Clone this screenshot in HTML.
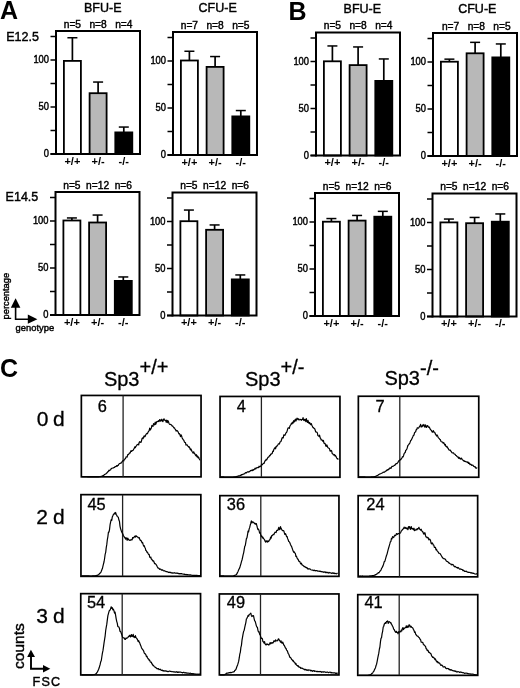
<!DOCTYPE html>
<html><head><meta charset="utf-8"><title>Figure</title>
<style>
html,body{margin:0;padding:0;background:#fff;width:520px;height:688px;overflow:hidden}
svg{display:block;will-change:transform}
text{font-family:"Liberation Sans", sans-serif;fill:#000}
.h{stroke:#000;stroke-width:0.42px}
.h2{stroke:#000;stroke-width:0.3px}
</style></head><body>
<svg width="520" height="688" viewBox="0 0 520 688">
<rect x="0" y="0" width="520" height="688" fill="#fff"/>
<line x1="72.4" y1="61" x2="72.4" y2="37.75" stroke="#000" stroke-width="1.7"/>
<line x1="67.4" y1="37.75" x2="77.4" y2="37.75" stroke="#000" stroke-width="1.5"/>
<rect x="63.9" y="60.9" width="17" height="93.1" fill="#fff" stroke="#000" stroke-width="1.8"/>
<text x="72.4" y="27.5" font-size="10.2" text-anchor="middle" font-weight="normal" class="h">n=5</text>
<text x="72.4" y="164.7" font-size="11" text-anchor="middle" font-weight="bold" >+/+</text>
<line x1="98.1" y1="93.3" x2="98.1" y2="82.05" stroke="#000" stroke-width="1.7"/>
<line x1="93.1" y1="82.05" x2="103.1" y2="82.05" stroke="#000" stroke-width="1.5"/>
<rect x="89.6" y="93.2" width="17" height="60.8" fill="#b8b8b8" stroke="#000" stroke-width="1.8"/>
<text x="98.1" y="27.5" font-size="10.2" text-anchor="middle" font-weight="normal" class="h">n=8</text>
<text x="98.1" y="164.7" font-size="11" text-anchor="middle" font-weight="bold" >+/-</text>
<line x1="123.8" y1="132.5" x2="123.8" y2="127.05" stroke="#000" stroke-width="1.7"/>
<line x1="118.8" y1="127.05" x2="128.8" y2="127.05" stroke="#000" stroke-width="1.5"/>
<rect x="115.3" y="132.4" width="17" height="21.6" fill="#000" stroke="#000" stroke-width="1.8"/>
<text x="123.8" y="27.5" font-size="10.2" text-anchor="middle" font-weight="normal" class="h">n=4</text>
<text x="123.8" y="164.7" font-size="11" text-anchor="middle" font-weight="bold" >-/-</text>
<rect x="56" y="31" width="84" height="123" fill="none" stroke="#000" stroke-width="2"/>
<line x1="50.5" y1="154" x2="56" y2="154" stroke="#000" stroke-width="1.5"/>
<line x1="50.5" y1="130.5" x2="56" y2="130.5" stroke="#000" stroke-width="1.5"/>
<line x1="50.5" y1="107" x2="56" y2="107" stroke="#000" stroke-width="1.5"/>
<line x1="50.5" y1="83.5" x2="56" y2="83.5" stroke="#000" stroke-width="1.5"/>
<line x1="50.5" y1="60" x2="56" y2="60" stroke="#000" stroke-width="1.5"/>
<line x1="50.5" y1="36.5" x2="56" y2="36.5" stroke="#000" stroke-width="1.5"/>
<line x1="50.5" y1="154" x2="57" y2="154" stroke="#000" stroke-width="2"/>
<text x="49" y="63.4" font-size="10" text-anchor="end" font-weight="normal" class="h" textLength="15.6" lengthAdjust="spacingAndGlyphs">100</text>
<text x="49" y="110.4" font-size="10" text-anchor="end" font-weight="normal" class="h" textLength="10.4" lengthAdjust="spacingAndGlyphs">50</text>
<text x="49" y="157.4" font-size="10" text-anchor="end" font-weight="normal" class="h" textLength="5.2" lengthAdjust="spacingAndGlyphs">0</text>
<text x="102.75" y="11.5" font-size="12.5" text-anchor="middle" font-weight="normal" class="h">BFU-E</text>
<line x1="189.4" y1="60.6" x2="189.4" y2="51.25" stroke="#000" stroke-width="1.7"/>
<line x1="184.4" y1="51.25" x2="194.4" y2="51.25" stroke="#000" stroke-width="1.5"/>
<rect x="180.9" y="60.5" width="17" height="94.5" fill="#fff" stroke="#000" stroke-width="1.8"/>
<text x="189.4" y="28.5" font-size="10.2" text-anchor="middle" font-weight="normal" class="h">n=7</text>
<text x="189.4" y="165.7" font-size="11" text-anchor="middle" font-weight="bold" >+/+</text>
<line x1="215.1" y1="67" x2="215.1" y2="56.55" stroke="#000" stroke-width="1.7"/>
<line x1="210.1" y1="56.55" x2="220.1" y2="56.55" stroke="#000" stroke-width="1.5"/>
<rect x="206.6" y="66.9" width="17" height="88.1" fill="#b8b8b8" stroke="#000" stroke-width="1.8"/>
<text x="215.1" y="28.5" font-size="10.2" text-anchor="middle" font-weight="normal" class="h">n=8</text>
<text x="215.1" y="165.7" font-size="11" text-anchor="middle" font-weight="bold" >+/-</text>
<line x1="240.8" y1="116.5" x2="240.8" y2="110.55" stroke="#000" stroke-width="1.7"/>
<line x1="235.8" y1="110.55" x2="245.8" y2="110.55" stroke="#000" stroke-width="1.5"/>
<rect x="232.3" y="116.4" width="17" height="38.6" fill="#000" stroke="#000" stroke-width="1.8"/>
<text x="240.8" y="28.5" font-size="10.2" text-anchor="middle" font-weight="normal" class="h">n=5</text>
<text x="240.8" y="165.7" font-size="11" text-anchor="middle" font-weight="bold" >-/-</text>
<rect x="173" y="32" width="84" height="123" fill="none" stroke="#000" stroke-width="2"/>
<line x1="167.5" y1="155" x2="173" y2="155" stroke="#000" stroke-width="1.5"/>
<line x1="167.5" y1="131.5" x2="173" y2="131.5" stroke="#000" stroke-width="1.5"/>
<line x1="167.5" y1="108" x2="173" y2="108" stroke="#000" stroke-width="1.5"/>
<line x1="167.5" y1="84.5" x2="173" y2="84.5" stroke="#000" stroke-width="1.5"/>
<line x1="167.5" y1="61" x2="173" y2="61" stroke="#000" stroke-width="1.5"/>
<line x1="167.5" y1="37.5" x2="173" y2="37.5" stroke="#000" stroke-width="1.5"/>
<line x1="167.5" y1="155" x2="174" y2="155" stroke="#000" stroke-width="2"/>
<text x="166" y="64.4" font-size="10" text-anchor="end" font-weight="normal" class="h" textLength="15.6" lengthAdjust="spacingAndGlyphs">100</text>
<text x="166" y="111.4" font-size="10" text-anchor="end" font-weight="normal" class="h" textLength="10.4" lengthAdjust="spacingAndGlyphs">50</text>
<text x="166" y="158.4" font-size="10" text-anchor="end" font-weight="normal" class="h" textLength="5.2" lengthAdjust="spacingAndGlyphs">0</text>
<text x="217.65" y="12" font-size="12.5" text-anchor="middle" font-weight="normal" class="h">CFU-E</text>
<line x1="332.4" y1="61.4" x2="332.4" y2="45.95" stroke="#000" stroke-width="1.7"/>
<line x1="327.4" y1="45.95" x2="337.4" y2="45.95" stroke="#000" stroke-width="1.5"/>
<rect x="323.9" y="61.3" width="17" height="94.2" fill="#fff" stroke="#000" stroke-width="1.8"/>
<text x="332.4" y="29" font-size="10.2" text-anchor="middle" font-weight="normal" class="h">n=5</text>
<text x="332.4" y="166.2" font-size="11" text-anchor="middle" font-weight="bold" >+/+</text>
<line x1="358.1" y1="65.2" x2="358.1" y2="46.95" stroke="#000" stroke-width="1.7"/>
<line x1="353.1" y1="46.95" x2="363.1" y2="46.95" stroke="#000" stroke-width="1.5"/>
<rect x="349.6" y="65.1" width="17" height="90.4" fill="#b8b8b8" stroke="#000" stroke-width="1.8"/>
<text x="358.1" y="29" font-size="10.2" text-anchor="middle" font-weight="normal" class="h">n=8</text>
<text x="358.1" y="166.2" font-size="11" text-anchor="middle" font-weight="bold" >+/-</text>
<line x1="383.8" y1="81" x2="383.8" y2="58.95" stroke="#000" stroke-width="1.7"/>
<line x1="378.8" y1="58.95" x2="388.8" y2="58.95" stroke="#000" stroke-width="1.5"/>
<rect x="375.3" y="80.9" width="17" height="74.6" fill="#000" stroke="#000" stroke-width="1.8"/>
<text x="383.8" y="29" font-size="10.2" text-anchor="middle" font-weight="normal" class="h">n=4</text>
<text x="383.8" y="166.2" font-size="11" text-anchor="middle" font-weight="bold" >-/-</text>
<rect x="316" y="32.5" width="84" height="123" fill="none" stroke="#000" stroke-width="2"/>
<line x1="310.5" y1="155.5" x2="316" y2="155.5" stroke="#000" stroke-width="1.5"/>
<line x1="310.5" y1="132" x2="316" y2="132" stroke="#000" stroke-width="1.5"/>
<line x1="310.5" y1="108.5" x2="316" y2="108.5" stroke="#000" stroke-width="1.5"/>
<line x1="310.5" y1="85" x2="316" y2="85" stroke="#000" stroke-width="1.5"/>
<line x1="310.5" y1="61.5" x2="316" y2="61.5" stroke="#000" stroke-width="1.5"/>
<line x1="310.5" y1="38" x2="316" y2="38" stroke="#000" stroke-width="1.5"/>
<line x1="310.5" y1="155.5" x2="317" y2="155.5" stroke="#000" stroke-width="2"/>
<text x="309" y="64.9" font-size="10" text-anchor="end" font-weight="normal" class="h" textLength="15.6" lengthAdjust="spacingAndGlyphs">100</text>
<text x="309" y="111.9" font-size="10" text-anchor="end" font-weight="normal" class="h" textLength="10.4" lengthAdjust="spacingAndGlyphs">50</text>
<text x="309" y="158.9" font-size="10" text-anchor="end" font-weight="normal" class="h" textLength="5.2" lengthAdjust="spacingAndGlyphs">0</text>
<text x="362.3" y="12.6" font-size="12.5" text-anchor="middle" font-weight="normal" class="h">BFU-E</text>
<line x1="449.4" y1="61.8" x2="449.4" y2="59.15" stroke="#000" stroke-width="1.7"/>
<line x1="444.4" y1="59.15" x2="454.4" y2="59.15" stroke="#000" stroke-width="1.5"/>
<rect x="440.9" y="61.7" width="17" height="94.3" fill="#fff" stroke="#000" stroke-width="1.8"/>
<text x="450.6" y="29.5" font-size="10.2" text-anchor="middle" font-weight="normal" class="h">n=7</text>
<text x="449.4" y="166.7" font-size="11" text-anchor="middle" font-weight="bold" >+/+</text>
<line x1="475.1" y1="53.4" x2="475.1" y2="42.35" stroke="#000" stroke-width="1.7"/>
<line x1="470.1" y1="42.35" x2="480.1" y2="42.35" stroke="#000" stroke-width="1.5"/>
<rect x="466.6" y="53.3" width="17" height="102.7" fill="#b8b8b8" stroke="#000" stroke-width="1.8"/>
<text x="476.3" y="29.5" font-size="10.2" text-anchor="middle" font-weight="normal" class="h">n=8</text>
<text x="475.1" y="166.7" font-size="11" text-anchor="middle" font-weight="bold" >+/-</text>
<line x1="500.8" y1="57.5" x2="500.8" y2="43.95" stroke="#000" stroke-width="1.7"/>
<line x1="495.8" y1="43.95" x2="505.8" y2="43.95" stroke="#000" stroke-width="1.5"/>
<rect x="492.3" y="57.4" width="17" height="98.6" fill="#000" stroke="#000" stroke-width="1.8"/>
<text x="502" y="29.5" font-size="10.2" text-anchor="middle" font-weight="normal" class="h">n=5</text>
<text x="500.8" y="166.7" font-size="11" text-anchor="middle" font-weight="bold" >-/-</text>
<rect x="433" y="33" width="84" height="123" fill="none" stroke="#000" stroke-width="2"/>
<line x1="427.5" y1="156" x2="433" y2="156" stroke="#000" stroke-width="1.5"/>
<line x1="427.5" y1="132.5" x2="433" y2="132.5" stroke="#000" stroke-width="1.5"/>
<line x1="427.5" y1="109" x2="433" y2="109" stroke="#000" stroke-width="1.5"/>
<line x1="427.5" y1="85.5" x2="433" y2="85.5" stroke="#000" stroke-width="1.5"/>
<line x1="427.5" y1="62" x2="433" y2="62" stroke="#000" stroke-width="1.5"/>
<line x1="427.5" y1="38.5" x2="433" y2="38.5" stroke="#000" stroke-width="1.5"/>
<line x1="427.5" y1="156" x2="434" y2="156" stroke="#000" stroke-width="2"/>
<text x="426" y="65.4" font-size="10" text-anchor="end" font-weight="normal" class="h" textLength="15.6" lengthAdjust="spacingAndGlyphs">100</text>
<text x="426" y="112.4" font-size="10" text-anchor="end" font-weight="normal" class="h" textLength="10.4" lengthAdjust="spacingAndGlyphs">50</text>
<text x="426" y="159.4" font-size="10" text-anchor="end" font-weight="normal" class="h" textLength="5.2" lengthAdjust="spacingAndGlyphs">0</text>
<text x="477.3" y="13" font-size="12.5" text-anchor="middle" font-weight="normal" class="h">CFU-E</text>
<line x1="71.9" y1="220.6" x2="71.9" y2="217.95" stroke="#000" stroke-width="1.7"/>
<line x1="66.9" y1="217.95" x2="76.9" y2="217.95" stroke="#000" stroke-width="1.5"/>
<rect x="63.4" y="220.5" width="17" height="94.5" fill="#fff" stroke="#000" stroke-width="1.8"/>
<text x="71.9" y="188.5" font-size="10.2" text-anchor="middle" font-weight="normal" class="h">n=5</text>
<text x="71.9" y="325.7" font-size="11" text-anchor="middle" font-weight="bold" >+/+</text>
<line x1="97.6" y1="222.6" x2="97.6" y2="215.05" stroke="#000" stroke-width="1.7"/>
<line x1="92.6" y1="215.05" x2="102.6" y2="215.05" stroke="#000" stroke-width="1.5"/>
<rect x="89.1" y="222.5" width="17" height="92.5" fill="#b8b8b8" stroke="#000" stroke-width="1.8"/>
<text x="97.6" y="188.5" font-size="10.2" text-anchor="middle" font-weight="normal" class="h">n=12</text>
<text x="97.6" y="325.7" font-size="11" text-anchor="middle" font-weight="bold" >+/-</text>
<line x1="123.3" y1="281" x2="123.3" y2="276.95" stroke="#000" stroke-width="1.7"/>
<line x1="118.3" y1="276.95" x2="128.3" y2="276.95" stroke="#000" stroke-width="1.5"/>
<rect x="114.8" y="280.9" width="17" height="34.1" fill="#000" stroke="#000" stroke-width="1.8"/>
<text x="123.3" y="188.5" font-size="10.2" text-anchor="middle" font-weight="normal" class="h">n=6</text>
<text x="123.3" y="325.7" font-size="11" text-anchor="middle" font-weight="bold" >-/-</text>
<rect x="55.5" y="192" width="84" height="123" fill="none" stroke="#000" stroke-width="2"/>
<line x1="50" y1="315" x2="55.5" y2="315" stroke="#000" stroke-width="1.5"/>
<line x1="50" y1="291.5" x2="55.5" y2="291.5" stroke="#000" stroke-width="1.5"/>
<line x1="50" y1="268" x2="55.5" y2="268" stroke="#000" stroke-width="1.5"/>
<line x1="50" y1="244.5" x2="55.5" y2="244.5" stroke="#000" stroke-width="1.5"/>
<line x1="50" y1="221" x2="55.5" y2="221" stroke="#000" stroke-width="1.5"/>
<line x1="50" y1="197.5" x2="55.5" y2="197.5" stroke="#000" stroke-width="1.5"/>
<line x1="50" y1="315" x2="56.5" y2="315" stroke="#000" stroke-width="2"/>
<text x="48.5" y="224.4" font-size="10" text-anchor="end" font-weight="normal" class="h" textLength="15.6" lengthAdjust="spacingAndGlyphs">100</text>
<text x="48.5" y="271.4" font-size="10" text-anchor="end" font-weight="normal" class="h" textLength="10.4" lengthAdjust="spacingAndGlyphs">50</text>
<text x="48.5" y="318.4" font-size="10" text-anchor="end" font-weight="normal" class="h" textLength="5.2" lengthAdjust="spacingAndGlyphs">0</text>
<line x1="188.9" y1="221.3" x2="188.9" y2="210.05" stroke="#000" stroke-width="1.7"/>
<line x1="183.9" y1="210.05" x2="193.9" y2="210.05" stroke="#000" stroke-width="1.5"/>
<rect x="180.4" y="221.2" width="17" height="94.3" fill="#fff" stroke="#000" stroke-width="1.8"/>
<text x="188.9" y="189" font-size="10.2" text-anchor="middle" font-weight="normal" class="h">n=5</text>
<text x="188.9" y="326.2" font-size="11" text-anchor="middle" font-weight="bold" >+/+</text>
<line x1="214.6" y1="229.9" x2="214.6" y2="224.95" stroke="#000" stroke-width="1.7"/>
<line x1="209.6" y1="224.95" x2="219.6" y2="224.95" stroke="#000" stroke-width="1.5"/>
<rect x="206.1" y="229.8" width="17" height="85.7" fill="#b8b8b8" stroke="#000" stroke-width="1.8"/>
<text x="214.6" y="189" font-size="10.2" text-anchor="middle" font-weight="normal" class="h">n=12</text>
<text x="214.6" y="326.2" font-size="11" text-anchor="middle" font-weight="bold" >+/-</text>
<line x1="240.3" y1="279.5" x2="240.3" y2="274.95" stroke="#000" stroke-width="1.7"/>
<line x1="235.3" y1="274.95" x2="245.3" y2="274.95" stroke="#000" stroke-width="1.5"/>
<rect x="231.8" y="279.4" width="17" height="36.1" fill="#000" stroke="#000" stroke-width="1.8"/>
<text x="240.3" y="189" font-size="10.2" text-anchor="middle" font-weight="normal" class="h">n=6</text>
<text x="240.3" y="326.2" font-size="11" text-anchor="middle" font-weight="bold" >-/-</text>
<rect x="172.5" y="192.5" width="84" height="123" fill="none" stroke="#000" stroke-width="2"/>
<line x1="167" y1="315.5" x2="172.5" y2="315.5" stroke="#000" stroke-width="1.5"/>
<line x1="167" y1="292" x2="172.5" y2="292" stroke="#000" stroke-width="1.5"/>
<line x1="167" y1="268.5" x2="172.5" y2="268.5" stroke="#000" stroke-width="1.5"/>
<line x1="167" y1="245" x2="172.5" y2="245" stroke="#000" stroke-width="1.5"/>
<line x1="167" y1="221.5" x2="172.5" y2="221.5" stroke="#000" stroke-width="1.5"/>
<line x1="167" y1="198" x2="172.5" y2="198" stroke="#000" stroke-width="1.5"/>
<line x1="167" y1="315.5" x2="173.5" y2="315.5" stroke="#000" stroke-width="2"/>
<text x="165.5" y="224.9" font-size="10" text-anchor="end" font-weight="normal" class="h" textLength="15.6" lengthAdjust="spacingAndGlyphs">100</text>
<text x="165.5" y="271.9" font-size="10" text-anchor="end" font-weight="normal" class="h" textLength="10.4" lengthAdjust="spacingAndGlyphs">50</text>
<text x="165.5" y="318.9" font-size="10" text-anchor="end" font-weight="normal" class="h" textLength="5.2" lengthAdjust="spacingAndGlyphs">0</text>
<line x1="331.4" y1="221.8" x2="331.4" y2="218.55" stroke="#000" stroke-width="1.7"/>
<line x1="326.4" y1="218.55" x2="336.4" y2="218.55" stroke="#000" stroke-width="1.5"/>
<rect x="322.9" y="221.7" width="17" height="94.3" fill="#fff" stroke="#000" stroke-width="1.8"/>
<text x="331.4" y="189.5" font-size="10.2" text-anchor="middle" font-weight="normal" class="h">n=5</text>
<text x="331.4" y="326.7" font-size="11" text-anchor="middle" font-weight="bold" >+/+</text>
<line x1="357.1" y1="220.7" x2="357.1" y2="215.45" stroke="#000" stroke-width="1.7"/>
<line x1="352.1" y1="215.45" x2="362.1" y2="215.45" stroke="#000" stroke-width="1.5"/>
<rect x="348.6" y="220.6" width="17" height="95.4" fill="#b8b8b8" stroke="#000" stroke-width="1.8"/>
<text x="357.1" y="189.5" font-size="10.2" text-anchor="middle" font-weight="normal" class="h">n=12</text>
<text x="357.1" y="326.7" font-size="11" text-anchor="middle" font-weight="bold" >+/-</text>
<line x1="382.8" y1="216.8" x2="382.8" y2="211.35" stroke="#000" stroke-width="1.7"/>
<line x1="377.8" y1="211.35" x2="387.8" y2="211.35" stroke="#000" stroke-width="1.5"/>
<rect x="374.3" y="216.7" width="17" height="99.3" fill="#000" stroke="#000" stroke-width="1.8"/>
<text x="382.8" y="189.5" font-size="10.2" text-anchor="middle" font-weight="normal" class="h">n=6</text>
<text x="382.8" y="326.7" font-size="11" text-anchor="middle" font-weight="bold" >-/-</text>
<rect x="315" y="193" width="84" height="123" fill="none" stroke="#000" stroke-width="2"/>
<line x1="309.5" y1="316" x2="315" y2="316" stroke="#000" stroke-width="1.5"/>
<line x1="309.5" y1="292.5" x2="315" y2="292.5" stroke="#000" stroke-width="1.5"/>
<line x1="309.5" y1="269" x2="315" y2="269" stroke="#000" stroke-width="1.5"/>
<line x1="309.5" y1="245.5" x2="315" y2="245.5" stroke="#000" stroke-width="1.5"/>
<line x1="309.5" y1="222" x2="315" y2="222" stroke="#000" stroke-width="1.5"/>
<line x1="309.5" y1="198.5" x2="315" y2="198.5" stroke="#000" stroke-width="1.5"/>
<line x1="309.5" y1="316" x2="316" y2="316" stroke="#000" stroke-width="2"/>
<text x="308" y="225.4" font-size="10" text-anchor="end" font-weight="normal" class="h" textLength="15.6" lengthAdjust="spacingAndGlyphs">100</text>
<text x="308" y="272.4" font-size="10" text-anchor="end" font-weight="normal" class="h" textLength="10.4" lengthAdjust="spacingAndGlyphs">50</text>
<text x="308" y="319.4" font-size="10" text-anchor="end" font-weight="normal" class="h" textLength="5.2" lengthAdjust="spacingAndGlyphs">0</text>
<line x1="448.9" y1="222.5" x2="448.9" y2="219.05" stroke="#000" stroke-width="1.7"/>
<line x1="443.9" y1="219.05" x2="453.9" y2="219.05" stroke="#000" stroke-width="1.5"/>
<rect x="440.4" y="222.4" width="17" height="94.1" fill="#fff" stroke="#000" stroke-width="1.8"/>
<text x="448.9" y="190" font-size="10.2" text-anchor="middle" font-weight="normal" class="h">n=5</text>
<text x="448.9" y="327.2" font-size="11" text-anchor="middle" font-weight="bold" >+/+</text>
<line x1="474.6" y1="223.3" x2="474.6" y2="217.45" stroke="#000" stroke-width="1.7"/>
<line x1="469.6" y1="217.45" x2="479.6" y2="217.45" stroke="#000" stroke-width="1.5"/>
<rect x="466.1" y="223.2" width="17" height="93.3" fill="#b8b8b8" stroke="#000" stroke-width="1.8"/>
<text x="474.6" y="190" font-size="10.2" text-anchor="middle" font-weight="normal" class="h">n=12</text>
<text x="474.6" y="327.2" font-size="11" text-anchor="middle" font-weight="bold" >+/-</text>
<line x1="500.3" y1="221.8" x2="500.3" y2="213.95" stroke="#000" stroke-width="1.7"/>
<line x1="495.3" y1="213.95" x2="505.3" y2="213.95" stroke="#000" stroke-width="1.5"/>
<rect x="491.8" y="221.7" width="17" height="94.8" fill="#000" stroke="#000" stroke-width="1.8"/>
<text x="500.3" y="190" font-size="10.2" text-anchor="middle" font-weight="normal" class="h">n=6</text>
<text x="500.3" y="327.2" font-size="11" text-anchor="middle" font-weight="bold" >-/-</text>
<rect x="432.5" y="193.5" width="84" height="123" fill="none" stroke="#000" stroke-width="2"/>
<line x1="427" y1="316.5" x2="432.5" y2="316.5" stroke="#000" stroke-width="1.5"/>
<line x1="427" y1="293" x2="432.5" y2="293" stroke="#000" stroke-width="1.5"/>
<line x1="427" y1="269.5" x2="432.5" y2="269.5" stroke="#000" stroke-width="1.5"/>
<line x1="427" y1="246" x2="432.5" y2="246" stroke="#000" stroke-width="1.5"/>
<line x1="427" y1="222.5" x2="432.5" y2="222.5" stroke="#000" stroke-width="1.5"/>
<line x1="427" y1="199" x2="432.5" y2="199" stroke="#000" stroke-width="1.5"/>
<line x1="427" y1="316.5" x2="433.5" y2="316.5" stroke="#000" stroke-width="2"/>
<text x="425.5" y="225.9" font-size="10" text-anchor="end" font-weight="normal" class="h" textLength="15.6" lengthAdjust="spacingAndGlyphs">100</text>
<text x="425.5" y="272.9" font-size="10" text-anchor="end" font-weight="normal" class="h" textLength="10.4" lengthAdjust="spacingAndGlyphs">50</text>
<text x="425.5" y="319.9" font-size="10" text-anchor="end" font-weight="normal" class="h" textLength="5.2" lengthAdjust="spacingAndGlyphs">0</text>
<text x="0" y="18.5" font-size="25" text-anchor="start" font-weight="bold" >A</text>
<text x="288.4" y="20" font-size="25" text-anchor="start" font-weight="bold" >B</text>
<text x="0" y="376.7" font-size="25" text-anchor="start" font-weight="bold" >C</text>
<text x="6.2" y="40.9" font-size="12.5" text-anchor="start" font-weight="normal" class="h">E12.5</text>
<text x="5.6" y="201.1" font-size="12.5" text-anchor="start" font-weight="normal" class="h">E14.5</text>
<text class="h" transform="translate(8.7,319.4) rotate(-90)" font-size="9.3" x="0" y="0">percentage</text>
<text x="15.6" y="331.2" font-size="9.4" text-anchor="start" font-weight="normal" class="h">genotype</text>
<path d="M15.6 298.2 L20.4 307.8 L10.8 307.8 Z" fill="#000"/>
<path d="M15.6 306 L15.6 319.2 L29 319.2" fill="none" stroke="#000" stroke-width="1.6"/>
<path d="M37.4 319.2 L27.8 314.6 L27.8 323.8 Z" fill="#000"/>
<text class="h2" x="103.9" y="385.6" font-size="20">Sp3<tspan dy="-11.8">+/+</tspan></text>
<text class="h2" x="245" y="386" font-size="20">Sp3<tspan dy="-12.4">+/-</tspan></text>
<text class="h2" x="384.4" y="385.3" font-size="20">Sp3<tspan dy="-10.6">-/-</tspan></text>
<text x="36.8" y="425.8" font-size="21" text-anchor="start" font-weight="normal" class="h2">0</text>
<text x="53" y="425.8" font-size="21" text-anchor="start" font-weight="normal" class="h2">d</text>
<text x="36.3" y="523.8" font-size="21" text-anchor="start" font-weight="normal" class="h2">2</text>
<text x="53" y="523.8" font-size="21" text-anchor="start" font-weight="normal" class="h2">d</text>
<text x="36.3" y="622.5" font-size="21" text-anchor="start" font-weight="normal" class="h2">3</text>
<text x="53" y="622.5" font-size="21" text-anchor="start" font-weight="normal" class="h2">d</text>
<rect x="81.35" y="395.45" width="119.7" height="81.4" fill="none" stroke="#000" stroke-width="1.7"/>
<line x1="123.1" y1="395.6" x2="123.1" y2="476.7" stroke="#222" stroke-width="1.3"/>
<polyline points="81.5,476.5 82.05,476.51 82.6,476.53 83.15,476.55 83.7,476.58 84.25,476.6 84.8,476.63 85.35,476.66 85.9,476.69 86.45,476.72 87,476.75 87.55,476.78 88.1,476.81 88.65,476.83 89.2,476.85 89.75,476.85 90.3,476.85 90.85,476.85 91.4,476.85 91.95,476.85 92.5,476.85 93.05,476.85 93.6,476.85 94.15,476.85 94.7,476.85 95.25,476.85 95.8,476.85 96.35,476.85 96.9,476.85 97.45,476.85 98,476.85 98.55,476.81 99.1,476.75 99.65,476.68 100.2,476.58 100.75,476.46 101.3,476.32 101.85,476.14 102.4,475.9 102.95,475.76 103.5,475.37 104.05,475.02 104.6,474.52 105.15,474.22 105.7,474.04 106.25,473.38 106.8,473.02 107.35,472.28 107.9,471.81 108.45,471.26 109,470.23 109.55,470.6 110.1,470.11 110.65,469.74 111.2,468.64 111.75,468.28 112.3,468.19 112.85,468.01 113.4,467.98 113.95,467.51 114.5,467.4 115.05,466.6 115.6,466.65 116.15,466.35 116.7,465.56 117.25,466.19 117.8,465.38 118.35,465.31 118.9,464.11 119.45,463.66 120,463.45 120.55,463.14 121.1,463.07 121.65,462.43 122.2,461.6 122.75,460.82 123.3,460.49 123.85,460.84 124.4,459.16 124.95,459.11 125.5,458.57 126.05,456.82 126.6,457.02 127.15,457.07 127.7,454.65 128.25,454.71 128.8,454.15 129.35,453.01 129.9,453.16 130.45,452.15 131,450.6 131.55,451.49 132.1,450.81 132.65,450.45 133.2,450.25 133.75,448.99 134.3,448.31 134.85,446.81 135.4,447.65 135.95,446.28 136.5,445.88 137.05,444.77 137.6,444.44 138.15,444.2 138.7,444.97 139.25,442.2 139.8,441.66 140.35,442.27 140.9,442.5 141.45,441.11 142,438.64 142.55,437.87 143.1,438.65 143.65,436.98 144.2,435.87 144.75,436.82 145.3,436.15 145.85,434.59 146.4,433.91 146.95,433.34 147.5,433.64 148.05,432.1 148.6,431.34 149.15,430.69 149.7,428.14 150.25,430.03 150.8,429.09 151.35,428.06 151.9,425.47 152.45,425.72 153,426.46 153.55,423.57 154.1,424.29 154.65,424.84 155.2,422.05 155.75,424.28 156.3,422.75 156.85,421.56 157.4,421.54 157.95,421.47 158.5,420.7 159.05,421.55 159.6,419.69 160.15,419.84 160.7,421.19 161.25,420.14 161.8,419.21 162.35,420.98 162.9,421.5 163.45,419.67 164,418.82 164.55,420.15 165.1,420.28 165.65,420.33 166.2,422.22 166.75,420.14 167.3,422.69 167.85,420.61 168.4,421.48 168.95,423.27 169.5,424.19 170.05,424.4 170.6,424.4 171.15,424.71 171.7,425.24 172.25,426.16 172.8,426.01 173.35,426.98 173.9,427.8 174.45,427.85 175,429.11 175.55,429.53 176.1,431.07 176.65,430.58 177.2,430.58 177.75,431.32 178.3,432.34 178.85,433.86 179.4,433.52 179.95,434.88 180.5,436.65 181.05,434.74 181.6,435.94 182.15,437.92 182.7,438.95 183.25,439.76 183.8,440.17 184.35,441.93 184.9,442.49 185.45,442.67 186,445.02 186.55,444.81 187.1,444.85 187.65,445.87 188.2,446.45 188.75,447.21 189.3,446.78 189.85,448.19 190.4,449.84 190.95,448.98 191.5,450.33 192.05,451.61 192.6,452.14 193.15,453.14 193.7,451.75 194.25,453.14 194.8,453.74 195.35,454.92 195.9,455.78 196.45,454.75 197,456.93 197.55,456.03 198.1,457.84 198.65,457.19 199.2,458.72 199.75,459.85 200.3,459.71" fill="none" stroke="#000" stroke-width="1.2" stroke-linejoin="round"/>
<text x="106.8" y="411.9" font-size="16.4" text-anchor="end" font-weight="normal" class="h2">6</text>
<rect x="220.05" y="396.45" width="119.9" height="80.8" fill="none" stroke="#000" stroke-width="1.7"/>
<line x1="261.4" y1="396.6" x2="261.4" y2="477.1" stroke="#222" stroke-width="1.3"/>
<polyline points="220,476.8 220.55,476.81 221.1,476.83 221.65,476.86 222.2,476.88 222.75,476.91 223.3,476.94 223.85,476.97 224.4,477 224.95,477.03 225.5,477.05 226.05,477.08 226.6,477.1 227.15,477.12 227.7,477.13 228.25,477.14 228.8,477.15 229.35,477.16 229.9,477.15 230.45,477.15 231,477.14 231.55,477.12 232.1,477.1 232.65,477.06 233.2,477.02 233.75,476.97 234.3,476.91 234.85,476.82 235.4,476.73 235.95,476.62 236.5,476.5 237.05,476.39 237.6,476.32 238.15,476.08 238.7,475.88 239.25,475.96 239.8,475.7 240.35,475.27 240.9,475.42 241.45,474.67 242,474.86 242.55,474.38 243.1,474.24 243.65,474.13 244.2,473.77 244.75,473.63 245.3,472.82 245.85,472.57 246.4,472.89 246.95,472.2 247.5,471.92 248.05,471.54 248.6,472.12 249.15,471.72 249.7,471.72 250.25,470.7 250.8,470.77 251.35,470.14 251.9,470.54 252.45,470.59 253,469.46 253.55,470.09 254.1,469.63 254.65,468.94 255.2,468.14 255.75,469.01 256.3,468.15 256.85,467.67 257.4,467.77 257.95,467.47 258.5,467.62 259.05,466.23 259.6,466.81 260.15,466.62 260.7,466.23 261.25,465.11 261.8,464.42 262.35,464.78 262.9,463.87 263.45,463.35 264,463.42 264.55,461.98 265.1,460.64 265.65,460.58 266.2,459.21 266.75,459.79 267.3,458.76 267.85,457.48 268.4,457.08 268.95,456.84 269.5,455.68 270.05,455.75 270.6,454.22 271.15,454.23 271.7,453.84 272.25,453.24 272.8,451.07 273.35,451.41 273.9,449.04 274.45,448.68 275,447.61 275.55,448.76 276.1,446.41 276.65,446.56 277.2,445.7 277.75,445.08 278.3,443.91 278.85,443.78 279.4,444.06 279.95,442.1 280.5,441.7 281.05,441.26 281.6,439.49 282.15,437.78 282.7,437.49 283.25,437.96 283.8,434.87 284.35,434.83 284.9,435.31 285.45,434.26 286,432.71 286.55,432.53 287.1,431.11 287.65,429.05 288.2,427.85 288.75,427.84 289.3,428.45 289.85,426.29 290.4,425.2 290.95,424.58 291.5,423.15 292.05,423.83 292.6,422.2 293.15,423.08 293.7,420.63 294.25,421.97 294.8,420.55 295.35,419.18 295.9,421.08 296.45,419.77 297,418.19 297.55,418.68 298.1,419.65 298.65,418.77 299.2,419.89 299.75,419.77 300.3,419.63 300.85,419.27 301.4,420.27 301.95,419.63 302.5,419.49 303.05,417.54 303.6,420.13 304.15,420.69 304.7,419.27 305.25,419.31 305.8,421.58 306.35,418.69 306.9,421.02 307.45,422.45 308,420.34 308.55,422.31 309.1,423.63 309.65,422.47 310.2,423.69 310.75,424.65 311.3,423.64 311.85,425.16 312.4,426.31 312.95,427.62 313.5,427.68 314.05,428.4 314.6,428.53 315.15,429.98 315.7,431.92 316.25,432.04 316.8,431.99 317.35,432.75 317.9,435.59 318.45,435.94 319,436.26 319.55,435.15 320.1,437.74 320.65,438.37 321.2,440.02 321.75,439.81 322.3,440.15 322.85,441.34 323.4,440.42 323.95,443.17 324.5,443.34 325.05,443.27 325.6,445.48 326.15,446.37 326.7,444.85 327.25,446.07 327.8,447.43 328.35,448.02 328.9,448.28 329.45,448.56 330,450.98 330.55,451.25 331.1,450.42 331.65,450.98 332.2,453.56 332.75,453.81 333.3,454.84 333.85,454.99 334.4,454.6 334.95,455.94 335.5,455.49 336.05,456.65 336.6,457.71 337.15,458.69 337.7,458.64 338.25,459.63" fill="none" stroke="#000" stroke-width="1.2" stroke-linejoin="round"/>
<text x="245.9" y="411.9" font-size="16.4" text-anchor="end" font-weight="normal" class="h2">4</text>
<rect x="358.35" y="396.25" width="120.4" height="81" fill="none" stroke="#000" stroke-width="1.7"/>
<line x1="399.8" y1="396.4" x2="399.8" y2="477.1" stroke="#222" stroke-width="1.3"/>
<polyline points="359,476.8 359.55,476.81 360.1,476.82 360.65,476.83 361.2,476.85 361.75,476.87 362.3,476.89 362.85,476.9 363.4,476.92 363.95,476.93 364.5,476.95 365.05,476.96 365.6,476.98 366.15,476.99 366.7,477 367.25,477 367.8,477.01 368.35,477.01 368.9,477.01 369.45,477 370,476.99 370.55,476.98 371.1,476.95 371.65,476.92 372.2,476.88 372.75,476.83 373.3,476.76 373.85,476.67 374.4,476.56 374.95,476.48 375.5,476.31 376.05,476.15 376.6,475.85 377.15,475.48 377.7,475.38 378.25,474.94 378.8,474.45 379.35,474.19 379.9,474.05 380.45,473.76 381,473.56 381.55,473.25 382.1,473.04 382.65,472.69 383.2,472.1 383.75,472.31 384.3,472.22 384.85,471.76 385.4,471.27 385.95,471.18 386.5,470.41 387.05,469.87 387.6,470.1 388.15,469.41 388.7,469.66 389.25,468.62 389.8,468.03 390.35,467.84 390.9,468.47 391.45,467.27 392,466.43 392.55,466.25 393.1,466.36 393.65,465.91 394.2,465.32 394.75,465.46 395.3,464.64 395.85,463.83 396.4,463.64 396.95,463.65 397.5,462.84 398.05,462.36 398.6,460.75 399.15,460.69 399.7,460.6 400.25,459.46 400.8,459.59 401.35,458.67 401.9,458.14 402.45,456.69 403,456.89 403.55,455.7 404.1,453.72 404.65,452.77 405.2,452.62 405.75,450.24 406.3,450.03 406.85,449.03 407.4,447.23 407.95,445.22 408.5,445.05 409.05,444.03 409.6,443.49 410.15,442.13 410.7,440.48 411.25,440.13 411.8,438.9 412.35,437.66 412.9,436.56 413.45,435.33 414,435.15 414.55,432.71 415.1,432.13 415.65,431.77 416.2,429.57 416.75,429.62 417.3,427.74 417.85,427.78 418.4,428.21 418.95,427.57 419.5,426.46 420.05,425.85 420.6,424.41 421.15,427.05 421.7,425.98 422.25,426.58 422.8,424.86 423.35,425.66 423.9,424.49 424.45,426.84 425,427.13 425.55,424.95 426.1,426.58 426.65,427.43 427.2,425.62 427.75,425.89 428.3,426.69 428.85,427.42 429.4,427.08 429.95,428.77 430.5,429.39 431.05,430.18 431.6,430.72 432.15,431.94 432.7,432.19 433.25,430.59 433.8,431.91 434.35,432.06 434.9,432.7 435.45,434.21 436,434.94 436.55,436.02 437.1,434.96 437.65,435.93 438.2,437.6 438.75,438.12 439.3,438.69 439.85,439.54 440.4,439.63 440.95,441.4 441.5,441.74 442.05,441.99 442.6,442.13 443.15,443.1 443.7,442.62 444.25,443.68 444.8,445.03 445.35,444.5 445.9,446.33 446.45,446.88 447,446.37 447.55,447.75 448.1,448.28 448.65,449.39 449.2,450.05 449.75,450.16 450.3,450.16 450.85,451.17 451.4,451.74 451.95,452.78 452.5,452.99 453.05,452.84 453.6,452.92 454.15,454 454.7,454.22 455.25,454.43 455.8,455.44 456.35,455.61 456.9,456.34 457.45,456.95 458,456.75 458.55,458.26 459.1,457.47 459.65,458.6 460.2,458.35 460.75,459.22 461.3,458 461.85,458.77 462.4,459.61 462.95,460.09 463.5,460.92 464.05,460.52 464.6,461.32 465.15,461.34 465.7,461.74 466.25,461.82 466.8,461.8 467.35,462.47 467.9,462 468.45,463.46 469,462.71 469.55,463.66 470.1,464.63 470.65,464.1 471.2,464.55 471.75,465.41 472.3,465.22 472.85,465.19 473.4,465.99 473.95,466.47 474.5,466.85 475.05,466.56 475.6,467.88 476.15,468.2 476.7,467.9 477.25,468.33" fill="none" stroke="#000" stroke-width="1.2" stroke-linejoin="round"/>
<text x="384.7" y="412.2" font-size="16.4" text-anchor="end" font-weight="normal" class="h2">7</text>
<rect x="80.95" y="494.65" width="119.9" height="81.7" fill="none" stroke="#000" stroke-width="1.7"/>
<line x1="122.6" y1="494.8" x2="122.6" y2="576.2" stroke="#222" stroke-width="1.3"/>
<polyline points="81.5,575.75 82.05,575.76 82.6,575.77 83.15,575.79 83.7,575.81 84.25,575.83 84.8,575.85 85.35,575.87 85.9,575.89 86.45,575.9 87,575.92 87.55,575.94 88.1,575.95 88.65,575.96 89.2,575.97 89.75,575.98 90.3,575.99 90.85,575.99 91.4,575.99 91.95,575.98 92.5,575.97 93.05,575.96 93.6,575.93 94.15,575.9 94.7,575.85 95.25,575.79 95.8,575.69 96.35,575.58 96.9,575.37 97.45,575.43 98,574.88 98.55,574.77 99.1,574.11 99.65,573.45 100.2,573.07 100.75,572.51 101.3,571.27 101.85,569.82 102.4,568.61 102.95,566.18 103.5,563.94 104.05,561.75 104.6,558.5 105.15,554.29 105.7,552.31 106.25,547.63 106.8,544.39 107.35,539.54 107.9,536.54 108.45,532.16 109,532.11 109.55,529.34 110.1,524.55 110.65,521.96 111.2,519.68 111.75,520.36 112.3,516.93 112.85,515.79 113.4,514.45 113.95,514.09 114.5,512.92 115.05,514.02 115.6,512.49 116.15,514.16 116.7,515.24 117.25,516.37 117.8,516.81 118.35,517.46 118.9,520.02 119.45,521.31 120,526.09 120.55,528.59 121.1,530.27 121.65,531.8 122.2,532.99 122.75,533.82 123.3,535.14 123.85,536.37 124.4,537.16 124.95,537.75 125.5,539.08 126.05,537.68 126.6,538.66 127.15,540.28 127.7,538.07 128.25,539.2 128.8,539.96 129.35,540.09 129.9,540.36 130.45,539.82 131,540.14 131.55,539.61 132.1,539.8 132.65,537.49 133.2,537.6 133.75,537.86 134.3,536.63 134.85,536.2 135.4,537.09 135.95,535.62 136.5,536.5 137.05,536.74 137.6,536.84 138.15,537.68 138.7,537.94 139.25,537.63 139.8,539.4 140.35,540.44 140.9,540.36 141.45,541.4 142,542.79 142.55,542.37 143.1,544.39 143.65,546.08 144.2,545.61 144.75,547.26 145.3,548.22 145.85,550.52 146.4,550.8 146.95,552.2 147.5,552.16 148.05,553.55 148.6,554.48 149.15,554.44 149.7,557.11 150.25,557.63 150.8,557.05 151.35,559.12 151.9,559.39 152.45,560.41 153,561.07 153.55,560.84 154.1,562.2 154.65,563.76 155.2,563.6 155.75,564.23 156.3,564.91 156.85,565.73 157.4,567.03 157.95,568.07 158.5,568.1 159.05,568.46 159.6,569.34 160.15,568.94 160.7,569.2 161.25,569.9 161.8,570.17 162.35,569.9 162.9,570.09 163.45,570.76 164,570.95 164.55,570.67 165.1,571.17 165.65,571.24 166.2,571.68 166.75,571.66 167.3,571.8 167.85,571.86 168.4,572.36 168.95,572.56 169.5,572.21 170.05,572.63 170.6,572.33 171.15,572.63 171.7,572.89 172.25,573.16 172.8,572.77 173.35,572.92 173.9,573.05 174.45,572.72 175,573.14 175.55,573.04 176.1,573.34 176.65,573.06 177.2,573.02 177.75,573.44 178.3,573.55 178.85,573.44 179.4,573.81 179.95,573.62 180.5,573.62 181.05,573.92 181.6,573.57 182.15,573.83 182.7,574.03 183.25,574.27 183.8,574.15 184.35,574.31 184.9,574.21 185.45,574.45 186,574.76 186.55,574.42 187.1,574.89 187.65,574.57 188.2,574.75 188.75,574.84 189.3,575.04 189.85,574.74 190.4,574.75 190.95,575.13 191.5,575.21 192.05,575.23 192.6,575.41 193.15,575.26 193.7,575.31 194.25,575.44 194.8,575.41 195.35,575.6 195.9,575.28 196.45,575.43 197,575.32 197.55,575.55 198.1,575.59 198.65,575.62 199.2,575.66 199.75,575.7 200.3,575.74" fill="none" stroke="#000" stroke-width="1.2" stroke-linejoin="round"/>
<text x="105.7" y="509.6" font-size="16.4" text-anchor="end" font-weight="normal" class="h2">45</text>
<rect x="219.85" y="495.65" width="119.1" height="80.7" fill="none" stroke="#000" stroke-width="1.7"/>
<line x1="260.8" y1="495.8" x2="260.8" y2="576.2" stroke="#222" stroke-width="1.3"/>
<polyline points="220,575.75 220.55,575.76 221.1,575.79 221.65,575.82 222.2,575.85 222.75,575.89 223.3,575.93 223.85,575.96 224.4,575.99 224.95,576.03 225.5,576.06 226.05,576.09 226.6,576.11 227.15,576.13 227.7,576.15 228.25,576.16 228.8,576.17 229.35,576.18 229.9,576.17 230.45,576.16 231,576.14 231.55,576.1 232.1,576.05 232.65,575.98 233.2,575.89 233.75,575.75 234.3,575.56 234.85,575.44 235.4,574.98 235.95,574.8 236.5,574.43 237.05,573.4 237.6,572.37 238.15,571.14 238.7,569.83 239.25,568.64 239.8,567.64 240.35,565.71 240.9,563.81 241.45,561.6 242,560 242.55,557.58 243.1,554.88 243.65,552.87 244.2,549.72 244.75,546.33 245.3,545.52 245.85,542.18 246.4,538.58 246.95,537.85 247.5,534.98 248.05,531.19 248.6,531.94 249.15,528.88 249.7,527.45 250.25,525.03 250.8,523.22 251.35,520.9 251.9,522.85 252.45,521.9 253,521.81 253.55,522.73 254.1,522.77 254.65,523.75 255.2,523.3 255.75,524.27 256.3,523.59 256.85,525.64 257.4,527.75 257.95,529.52 258.5,529.16 259.05,530.5 259.6,533.12 260.15,532.61 260.7,534.6 261.25,536.34 261.8,536 262.35,537.89 262.9,537.13 263.45,538.58 264,538.97 264.55,539.76 265.1,541.17 265.65,542.09 266.2,540.8 266.75,541.19 267.3,542.14 267.85,540.83 268.4,541.63 268.95,541.11 269.5,539.74 270.05,539.59 270.6,537.13 271.15,538.24 271.7,535.67 272.25,535.62 272.8,534.97 273.35,534.34 273.9,534.64 274.45,533.26 275,532.16 275.55,532.31 276.1,532.56 276.65,530.54 277.2,530.24 277.75,530.45 278.3,529.08 278.85,527.28 279.4,529.56 279.95,529.38 280.5,526.57 281.05,528.31 281.6,529.2 282.15,530.29 282.7,530.72 283.25,530.67 283.8,530.83 284.35,532.73 284.9,534.46 285.45,533.64 286,534.75 286.55,536.66 287.1,536.5 287.65,538.72 288.2,539.72 288.75,541.55 289.3,541.8 289.85,542.79 290.4,544.26 290.95,545.63 291.5,546.32 292.05,547.92 292.6,549.54 293.15,550.93 293.7,552.28 294.25,551.82 294.8,553.11 295.35,553.44 295.9,556.46 296.45,556.2 297,557.7 297.55,559.07 298.1,559.05 298.65,560.91 299.2,561.47 299.75,561.42 300.3,562.98 300.85,563.98 301.4,563.22 301.95,564.82 302.5,565.01 303.05,565.57 303.6,565.97 304.15,566.73 304.7,566.47 305.25,567.28 305.8,567.11 306.35,567.88 306.9,567.61 307.45,568.18 308,569.09 308.55,568.93 309.1,568.95 309.65,568.81 310.2,569.12 310.75,569.62 311.3,570.02 311.85,569.98 312.4,570.13 312.95,570.06 313.5,570.62 314.05,570.18 314.6,570.24 315.15,570.81 315.7,570.66 316.25,570.66 316.8,570.68 317.35,570.87 317.9,571.24 318.45,571.25 319,570.88 319.55,571.45 320.1,571.46 320.65,571.21 321.2,571.8 321.75,571.59 322.3,571.66 322.85,572.05 323.4,572.27 323.95,571.81 324.5,572.19 325.05,571.92 325.6,572.65 326.15,572.18 326.7,572.7 327.25,572.3 327.8,572.75 328.35,573.02 328.9,572.29 329.45,572.65 330,572.95 330.55,572.88 331.1,572.81 331.65,573.41 332.2,573.12 332.75,572.79 333.3,573.42 333.85,572.92 334.4,573.61 334.95,573.28 335.5,573.5 336.05,573.81 336.6,573.62 337.15,573.36 337.7,573.38" fill="none" stroke="#000" stroke-width="1.2" stroke-linejoin="round"/>
<text x="245" y="509.9" font-size="16.4" text-anchor="end" font-weight="normal" class="h2">36</text>
<rect x="358.15" y="495.65" width="119.5" height="81.2" fill="none" stroke="#000" stroke-width="1.7"/>
<line x1="399.5" y1="495.8" x2="399.5" y2="576.7" stroke="#222" stroke-width="1.3"/>
<polyline points="359,576.14 359.55,576.09 360.1,575.91 360.65,576.12 361.2,576.09 361.75,576.11 362.3,575.86 362.85,576.05 363.4,576.06 363.95,576.07 364.5,576.07 365.05,576.07 365.6,576.07 366.15,576.07 366.7,576.07 367.25,576.06 367.8,576.01 368.35,576.13 368.9,576.08 369.45,576.07 370,575.72 370.55,575.91 371.1,575.91 371.65,576.01 372.2,575.6 372.75,575.6 373.3,575.54 373.85,575.54 374.4,575.16 374.95,575.22 375.5,574.63 376.05,574.56 376.6,574.1 377.15,573.91 377.7,573.33 378.25,572.66 378.8,572.87 379.35,572.11 379.9,571.21 380.45,570.7 381,570.11 381.55,568.42 382.1,567.61 382.65,566.65 383.2,565.35 383.75,563.59 384.3,561.52 384.85,561.41 385.4,559.31 385.95,557.45 386.5,555.54 387.05,554.11 387.6,551.9 388.15,549.62 388.7,547.78 389.25,545.83 389.8,543.92 390.35,541.8 390.9,541.5 391.45,538.47 392,538.85 392.55,536.61 393.1,537.11 393.65,537.53 394.2,536.24 394.75,535.18 395.3,535.57 395.85,535.37 396.4,533.55 396.95,534.04 397.5,534.35 398.05,533.47 398.6,533.59 399.15,533.78 399.7,533.4 400.25,533.06 400.8,532.24 401.35,530.85 401.9,530.45 402.45,529.61 403,529.03 403.55,528.71 404.1,527.14 404.65,528.11 405.2,528.31 405.75,527.43 406.3,528.3 406.85,528.79 407.4,528.16 407.95,529.69 408.5,526.7 409.05,527.86 409.6,526.51 410.15,528.81 410.7,529.38 411.25,526.55 411.8,528.32 412.35,528.99 412.9,528.63 413.45,529.78 414,528.21 414.55,530.65 415.1,530.33 415.65,529.95 416.2,529.18 416.75,529.99 417.3,528.67 417.85,529.07 418.4,528.28 418.95,527.35 419.5,528.93 420.05,529.4 420.6,530.24 421.15,529.21 421.7,530.45 422.25,531.55 422.8,531.69 423.35,533.26 423.9,534.22 424.45,532.75 425,532.88 425.55,535.69 426.1,536.97 426.65,537.17 427.2,537.79 427.75,537.31 428.3,537.91 428.85,539.86 429.4,539.1 429.95,539.23 430.5,540.39 431.05,543.08 431.6,543.77 432.15,542.76 432.7,543.49 433.25,544.99 433.8,545.1 434.35,547.43 434.9,547.29 435.45,547.45 436,549.95 436.55,549.49 437.1,550.84 437.65,551.45 438.2,552.01 438.75,553.18 439.3,553.28 439.85,553.45 440.4,554.17 440.95,555.05 441.5,555.99 442.05,557.02 442.6,557.63 443.15,558.44 443.7,558.69 444.25,558.67 444.8,559.18 445.35,559.15 445.9,560.34 446.45,561.1 447,561.52 447.55,561.59 448.1,561.96 448.65,562.89 449.2,562.82 449.75,563.53 450.3,563.81 450.85,563.98 451.4,564.82 451.95,564.28 452.5,564.7 453.05,564.81 453.6,565.13 454.15,566.46 454.7,566.77 455.25,566.4 455.8,566.92 456.35,567.46 456.9,567.6 457.45,568.05 458,567.36 458.55,567.9 459.1,568.59 459.65,569.23 460.2,569 460.75,568.91 461.3,569.35 461.85,569.49 462.4,569.67 462.95,570.69 463.5,570.2 464.05,570.62 464.6,571.32 465.15,571.38 465.7,571.3 466.25,571.19 466.8,571.67 467.35,572.19 467.9,572.07 468.45,572.41 469,572.24 469.55,572.51 470.1,572.47 470.65,572.79 471.2,573.16 471.75,572.59 472.3,573.08 472.85,573.28 473.4,573.21 473.95,573.4 474.5,573.78 475.05,574.08 475.6,573.98 476.15,574.02 476.7,573.74 477.25,574.53" fill="none" stroke="#000" stroke-width="1.2" stroke-linejoin="round"/>
<text x="384.5" y="509.9" font-size="16.4" text-anchor="end" font-weight="normal" class="h2">24</text>
<rect x="80.75" y="593.65" width="119.8" height="81.3" fill="none" stroke="#000" stroke-width="1.7"/>
<line x1="122.2" y1="593.8" x2="122.2" y2="674.8" stroke="#222" stroke-width="1.3"/>
<polyline points="81.5,674.95 82.05,674.95 82.6,674.95 83.15,674.95 83.7,674.95 84.25,674.95 84.8,674.95 85.35,674.95 85.9,674.95 86.45,674.95 87,674.95 87.55,674.95 88.1,674.95 88.65,674.95 89.2,674.95 89.75,674.95 90.3,674.95 90.85,674.95 91.4,674.9 91.95,674.86 92.5,674.81 93.05,674.76 93.6,674.69 94.15,674.58 94.7,674.43 95.25,674.2 95.8,673.89 96.35,673.42 96.9,672.6 97.45,671.96 98,670.6 98.55,669.56 99.1,668.08 99.65,666.08 100.2,664.21 100.75,661.67 101.3,660.5 101.85,656.75 102.4,653.11 102.95,650.68 103.5,646.81 104.05,642.82 104.6,639.32 105.15,635.79 105.7,630.51 106.25,627.1 106.8,624.19 107.35,619.59 107.9,615.7 108.45,613.63 109,611.58 109.55,610.21 110.1,610.05 110.65,608.61 111.2,606.74 111.75,608.41 112.3,607.74 112.85,609.83 113.4,609.11 113.95,610.63 114.5,613.18 115.05,612.12 115.6,615.06 116.15,618.54 116.7,621.3 117.25,623.17 117.8,626.41 118.35,626.74 118.9,627.07 119.45,628.4 120,631.41 120.55,631.35 121.1,632.76 121.65,634.35 122.2,636.2 122.75,637.45 123.3,637.9 123.85,637.83 124.4,638.21 124.95,639.46 125.5,639.32 126.05,637.86 126.6,638.33 127.15,638.02 127.7,637.64 128.25,637 128.8,636.05 129.35,636.33 129.9,635.13 130.45,637.01 131,636.16 131.55,634.55 132.1,636.62 132.65,636.25 133.2,634.32 133.75,637.09 134.3,636.67 134.85,637.59 135.4,635.68 135.95,637.59 136.5,638.18 137.05,638.91 137.6,639.9 138.15,641.58 138.7,640.72 139.25,642.05 139.8,643.09 140.35,644.85 140.9,645.94 141.45,647.69 142,648.63 142.55,649.45 143.1,649.94 143.65,651.02 144.2,652.78 144.75,653.53 145.3,654 145.85,654.61 146.4,656.55 146.95,656.2 147.5,657.74 148.05,658.84 148.6,658.92 149.15,660.28 149.7,660.11 150.25,661.9 150.8,662.24 151.35,662.19 151.9,663.95 152.45,664.02 153,665.62 153.55,665.48 154.1,666.26 154.65,666.94 155.2,667.16 155.75,667.76 156.3,667.83 156.85,668.56 157.4,668.62 157.95,668.94 158.5,668.6 159.05,669.68 159.6,669.53 160.15,669.23 160.7,669.91 161.25,670.18 161.8,670.5 162.35,670.04 162.9,670.9 163.45,670.56 164,671.15 164.55,670.78 165.1,671.09 165.65,670.9 166.2,670.79 166.75,671.42 167.3,671.43 167.85,671.65 168.4,671.54 168.95,671.24 169.5,671.04 170.05,671.32 170.6,671.37 171.15,671.38 171.7,671.76 172.25,671.75 172.8,671.67 173.35,671.82 173.9,671.8 174.45,671.93 175,672.09 175.55,672.18 176.1,671.85 176.65,671.71 177.2,672.39 177.75,672.13 178.3,672.38 178.85,671.83 179.4,672.14 179.95,672.26 180.5,671.98 181.05,672.22 181.6,672.52 182.15,672.64 182.7,672.8 183.25,672.35 183.8,672.3 184.35,672.75 184.9,672.9 185.45,672.82 186,672.61 186.55,673.07 187.1,673.14 187.65,673.17 188.2,673.06 188.75,673.27 189.3,673.43 189.85,673.28 190.4,673.19 190.95,673.56 191.5,673.66 192.05,673.65 192.6,673.84 193.15,673.68 193.7,673.8 194.25,673.82 194.8,673.98 195.35,674.16 195.9,673.95 196.45,674.22 197,674.24 197.55,674.18 198.1,674.19 198.65,674.33 199.2,674.18 199.75,674.21 200.3,674.24" fill="none" stroke="#000" stroke-width="1.2" stroke-linejoin="round"/>
<text x="105.2" y="607.9" font-size="16.4" text-anchor="end" font-weight="normal" class="h2">54</text>
<rect x="219.35" y="593.95" width="119.6" height="81" fill="none" stroke="#000" stroke-width="1.7"/>
<line x1="260.5" y1="594.1" x2="260.5" y2="674.8" stroke="#222" stroke-width="1.3"/>
<polyline points="220,674.95 220.55,674.95 221.1,674.95 221.65,674.95 222.2,674.95 222.75,674.95 223.3,674.95 223.85,674.95 224.4,674.75 224.95,674.43 225.5,674.03 226.05,673.68 226.6,673.21 227.15,673.21 227.7,673.19 228.25,672.93 228.8,672.85 229.35,672.68 229.9,672.72 230.45,672.37 231,672.82 231.55,672.46 232.1,672.22 232.65,672.14 233.2,671.9 233.75,671.95 234.3,671.55 234.85,670.35 235.4,670.26 235.95,669.38 236.5,667.82 237.05,666.16 237.6,664.91 238.15,663.06 238.7,661.15 239.25,657.97 239.8,654.18 240.35,652.11 240.9,647.4 241.45,645.35 242,640.13 242.55,637.17 243.1,633.95 243.65,631.29 244.2,630.19 244.75,627.32 245.3,624.85 245.85,622.55 246.4,618.93 246.95,618.32 247.5,616.96 248.05,615.5 248.6,616.23 249.15,614.46 249.7,614.16 250.25,613.63 250.8,613.07 251.35,615.46 251.9,616.55 252.45,615.92 253,615.49 253.55,615.8 254.1,618.62 254.65,620.84 255.2,621.29 255.75,623.42 256.3,625.6 256.85,627.01 257.4,627.3 257.95,630.34 258.5,631.93 259.05,631.73 259.6,634.22 260.15,634.67 260.7,636.86 261.25,638.44 261.8,638.11 262.35,638.6 262.9,641.64 263.45,641.67 264,643.13 264.55,641.62 265.1,643.86 265.65,644.65 266.2,644.97 266.75,643.9 267.3,644.41 267.85,644.17 268.4,644.95 268.95,644.84 269.5,643.95 270.05,642.63 270.6,643.88 271.15,642.71 271.7,643.21 272.25,642.57 272.8,643.15 273.35,642.38 273.9,640.78 274.45,641.04 275,641.72 275.55,639.88 276.1,640.43 276.65,640.87 277.2,640.83 277.75,640.23 278.3,638.87 278.85,639.07 279.4,640.46 279.95,640.88 280.5,642.19 281.05,640.8 281.6,642.83 282.15,643.15 282.7,642.08 283.25,643.43 283.8,645 284.35,645.45 284.9,646.67 285.45,648.09 286,648.25 286.55,650.12 287.1,650.54 287.65,651.79 288.2,653.66 288.75,654.15 289.3,655.72 289.85,657.4 290.4,657.38 290.95,658.09 291.5,659.32 292.05,659.47 292.6,660.89 293.15,660.38 293.7,661.92 294.25,661.99 294.8,662.44 295.35,664.06 295.9,663.53 296.45,665.1 297,665.22 297.55,666.02 298.1,665.53 298.65,666.81 299.2,667.3 299.75,667.09 300.3,667.43 300.85,668.35 301.4,668.13 301.95,668.19 302.5,668.35 303.05,668.91 303.6,669.06 304.15,669.19 304.7,669.79 305.25,669.35 305.8,669.73 306.35,670.16 306.9,669.56 307.45,670.28 308,670.55 308.55,669.82 309.1,670.01 309.65,670.14 310.2,670.1 310.75,670.76 311.3,670.31 311.85,670.96 312.4,671.29 312.95,670.57 313.5,670.98 314.05,670.72 314.6,671.39 315.15,671.08 315.7,671.25 316.25,671.39 316.8,671.57 317.35,671.41 317.9,671.55 318.45,671.47 319,671.68 319.55,671.43 320.1,671.77 320.65,671.44 321.2,671.75 321.75,672.27 322.3,671.97 322.85,671.71 323.4,672.08 323.95,671.85 324.5,671.75 325.05,671.98 325.6,672.33 326.15,672.29 326.7,672.22 327.25,672.08 327.8,672.09 328.35,672.64 328.9,672.45 329.45,672.25 330,672.17 330.55,672.28 331.1,672.93 331.65,672.45 332.2,672.73 332.75,672.85 333.3,672.85 333.85,672.89 334.4,672.77 334.95,672.9 335.5,673.44 336.05,673.11 336.6,673.45 337.15,673.13 337.7,673.42" fill="none" stroke="#000" stroke-width="1.2" stroke-linejoin="round"/>
<text x="245.1" y="608" font-size="16.4" text-anchor="end" font-weight="normal" class="h2">49</text>
<rect x="357.75" y="594.65" width="120" height="80.7" fill="none" stroke="#000" stroke-width="1.7"/>
<line x1="399.2" y1="594.8" x2="399.2" y2="675.2" stroke="#222" stroke-width="1.3"/>
<polyline points="359,675.3 359.55,675.31 360.1,675.33 360.65,675.35 361.2,675.35 361.75,675.35 362.3,675.35 362.85,675.35 363.4,675.35 363.95,675.35 364.5,675.35 365.05,675.35 365.6,675.35 366.15,675.35 366.7,675.35 367.25,675.34 367.8,675.25 368.35,675.15 368.9,675.04 369.45,674.9 370,674.73 370.55,674.54 371.1,674.35 371.65,673.64 372.2,673.43 372.75,672.79 373.3,671.81 373.85,671.26 374.4,669.88 374.95,668.74 375.5,667.66 376.05,665.49 376.6,664.23 377.15,661.44 377.7,658.28 378.25,655.61 378.8,653.2 379.35,649.25 379.9,647.01 380.45,641.84 381,638.39 381.55,637.61 382.1,633.69 382.65,631.29 383.2,627.05 383.75,626.24 384.3,624.01 384.85,623.52 385.4,622.58 385.95,623.45 386.5,621.6 387.05,621.29 387.6,620.85 388.15,623.45 388.7,621.79 389.25,621.68 389.8,622.03 390.35,622.87 390.9,622.63 391.45,624.28 392,624.99 392.55,626.27 393.1,627.13 393.65,629.11 394.2,629.57 394.75,630.91 395.3,631.76 395.85,632.44 396.4,631.25 396.95,632.47 397.5,632.44 398.05,633.81 398.6,631.72 399.15,632.16 399.7,631.98 400.25,631.28 400.8,631.8 401.35,630.03 401.9,630.77 402.45,628.14 403,627.54 403.55,629.59 404.1,628.48 404.65,628.15 405.2,627.5 405.75,627.56 406.3,625.8 406.85,627.58 407.4,626.08 407.95,627.33 408.5,626.41 409.05,624.8 409.6,624.99 410.15,627.18 410.7,626.22 411.25,626.39 411.8,627.52 412.35,627.59 412.9,628.23 413.45,629.59 414,630.42 414.55,632.41 415.1,631.93 415.65,634.05 416.2,634.85 416.75,635.66 417.3,636.03 417.85,636.1 418.4,636.94 418.95,637.55 419.5,637.92 420.05,639.27 420.6,639.66 421.15,642.22 421.7,642.25 422.25,642.36 422.8,642.36 423.35,644.33 423.9,644.89 424.45,645.21 425,645.96 425.55,646.39 426.1,648.59 426.65,648.86 427.2,650.64 427.75,650.24 428.3,650.83 428.85,652.5 429.4,652.34 429.95,653.04 430.5,653.41 431.05,653.99 431.6,655.95 432.15,656.38 432.7,657.42 433.25,657.02 433.8,657.91 434.35,658.06 434.9,659.65 435.45,659.01 436,660.59 436.55,661.41 437.1,662.1 437.65,661.5 438.2,662.97 438.75,662.64 439.3,663.11 439.85,663.33 440.4,664.85 440.95,665.45 441.5,664.93 442.05,665.26 442.6,665.81 443.15,666.93 443.7,667.03 444.25,666.78 444.8,666.71 445.35,667.37 445.9,668.33 446.45,668.75 447,668.37 447.55,668.49 448.1,668.8 448.65,668.69 449.2,669.72 449.75,669.3 450.3,670.16 450.85,669.55 451.4,669.83 451.95,670.45 452.5,670.31 453.05,670.9 453.6,670.83 454.15,670.64 454.7,671.27 455.25,671.45 455.8,670.95 456.35,671.9 456.9,671.74 457.45,671.93 458,671.47 458.55,671.81 459.1,672.01 459.65,672.44 460.2,671.97 460.75,672.2 461.3,672.15 461.85,672.54 462.4,672.76 462.95,672.44 463.5,672.74 464.05,673.05 464.6,673.35 465.15,673.25 465.7,673.15 466.25,673.08 466.8,673.22 467.35,673.36 467.9,673.59 468.45,673.64 469,674 469.55,673.87 470.1,673.74 470.65,674.22 471.2,674.21 471.75,674.17 472.3,674.14 472.85,674.11 473.4,674.27 473.95,674.59 474.5,674.56 475.05,674.64 475.6,674.72 476.15,674.8 476.7,674.88 477.25,674.96" fill="none" stroke="#000" stroke-width="1.2" stroke-linejoin="round"/>
<text x="382.7" y="608" font-size="16.4" text-anchor="end" font-weight="normal" class="h2">41</text>
<text class="h" transform="translate(24.0,668.9) rotate(-90)" font-size="15.5" x="0" y="0">counts</text>
<text x="32.4" y="685.6" font-size="12.6" text-anchor="start" font-weight="normal" class="h" letter-spacing="1.3">FSC</text>
<path d="M30.9 649.8 L35 656.9 L27.2 656.9 Z" fill="#000"/>
<path d="M31 655.5 L31 668.8 L44 668.8" fill="none" stroke="#000" stroke-width="1.9"/>
<path d="M50.3 668.8 L43 665 L43 672.6 Z" fill="#000"/>
</svg>
</body></html>
